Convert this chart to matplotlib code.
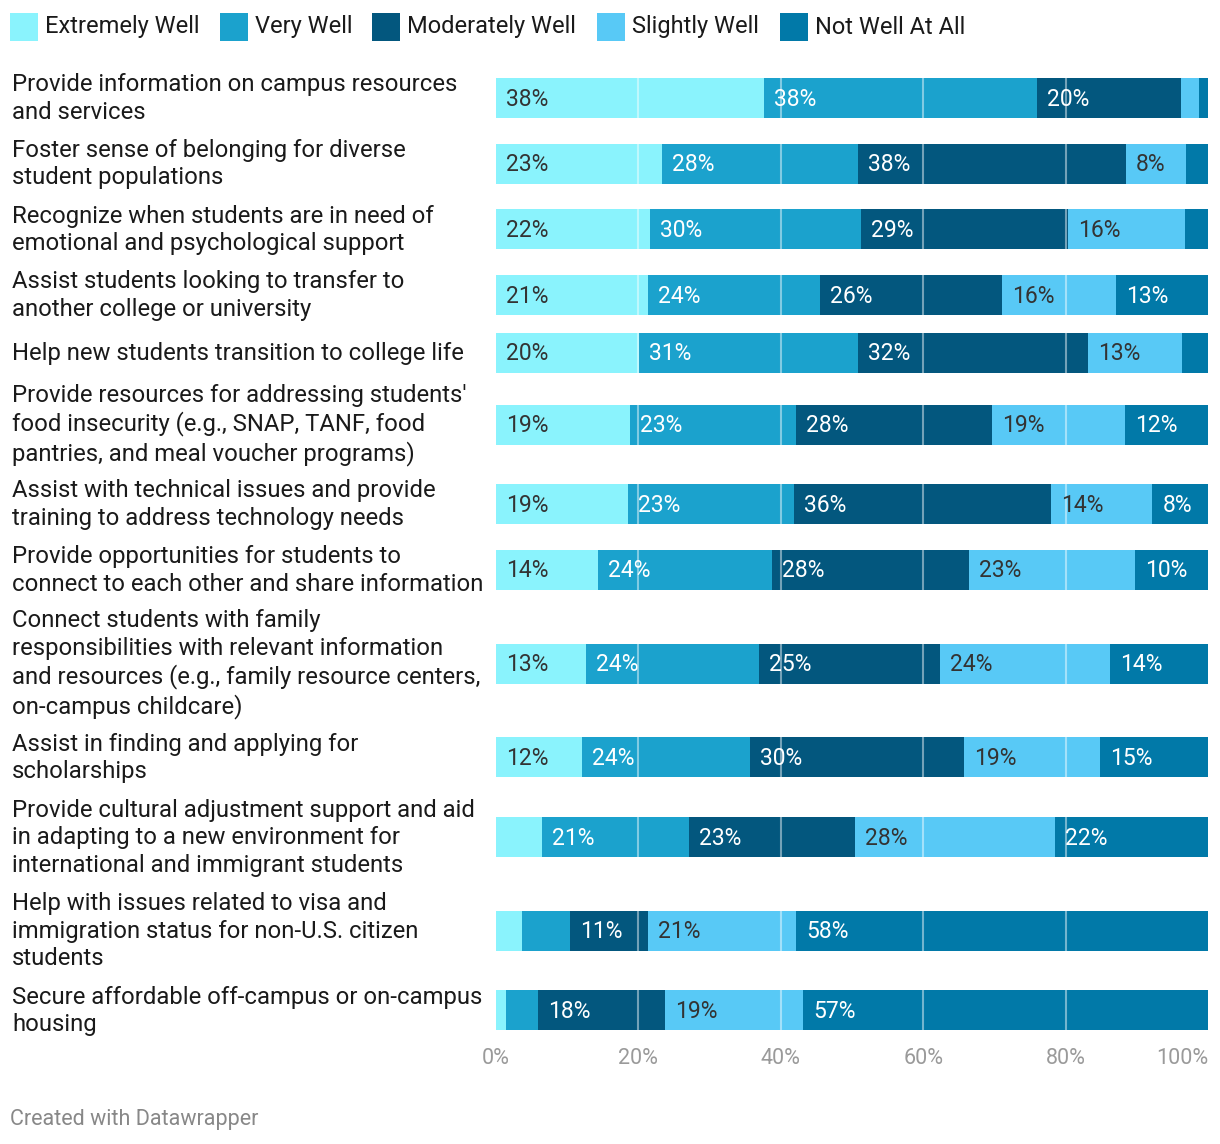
import matplotlib
matplotlib.use("Agg")
import matplotlib.pyplot as plt
from matplotlib.patches import Rectangle

plt.rcParams['font.family'] = ['Roboto', 'DejaVu Sans']

categories = [
    "Provide information on campus resources\nand services",
    "Foster sense of belonging for diverse\nstudent populations",
    "Recognize when students are in need of\nemotional and psychological support",
    "Assist students looking to transfer to\nanother college or university",
    "Help new students transition to college life",
    "Provide resources for addressing students'\nfood insecurity (e.g., SNAP, TANF, food\npantries, and meal voucher programs)",
    "Assist with technical issues and provide\ntraining to address technology needs",
    "Provide opportunities for students to\nconnect to each other and share information",
    "Connect students with family\nresponsibilities with relevant information\nand resources (e.g., family resource centers,\non-campus childcare)",
    "Assist in finding and applying for\nscholarships",
    "Provide cultural adjustment support and aid\nin adapting to a new environment for\ninternational and immigrant students",
    "Help with issues related to visa and\nimmigration status for non-U.S. citizen\nstudents",
    "Secure affordable off-campus or on-campus\nhousing",
]

series_names = ["Extremely Well", "Very Well", "Moderately Well", "Slightly Well", "Not Well At All"]

extremely_well = [37.6, 23.3, 21.6, 21.3, 20.1, 18.8, 18.6, 14.3, 12.6, 12.1, 6.5, 3.7, 1.4]
very_well      = [38.4, 27.6, 29.6, 24.2, 30.8, 23.3, 23.3, 24.4, 24.4, 23.6, 20.6, 6.7, 4.5]
moderately     = [20.2, 37.6, 29.1, 25.6, 32.3, 27.6, 36.0, 27.8, 25.3, 30.1, 23.3, 11.0, 17.8]
slightly_well  = [2.5, 8.4, 16.4, 16.0, 13.2, 18.6, 14.3, 23.3, 23.9, 19.1, 28.1, 20.8, 19.4]
not_well       = [1.3, 3.1, 3.3, 12.9, 3.6, 11.7, 7.8, 10.2, 13.8, 15.1, 21.5, 57.8, 56.9]

series = [extremely_well, very_well, moderately, slightly_well, not_well]
colors = ["#8af3fd", "#1ba2cd", "#03577e", "#58c9f6", "#0179a8"]
text_colors = ["#333333", "#ffffff", "#ffffff", "#333333", "#ffffff"]
ticks = [0, 20, 40, 60, 80, 100]

W, H = 1220, 1144
fig = plt.figure(figsize=(W / 100, H / 100), dpi=100)

# layout: compute row centers (in pixel units) from label line counts
line_h = 28.0
bar_h = 40.0
gap = 9.7
centers = []
y = 98.0
prev_h = None
for cat in categories:
    n = cat.count("\n") + 1
    h = max(bar_h, n * line_h)
    if prev_h is not None:
        y += prev_h / 2 + h / 2 + gap
    centers.append(y)
    prev_h = h

x0, x1 = 496, 1208
ax = fig.add_axes([x0 / W, 0, (x1 - x0) / W, 1])
ax.set_xlim(0, 100)
ax.set_ylim(H, 0)
ax.axis("off")

px = 100.0 / (x1 - x0)  # data units per pixel
for i, cat in enumerate(categories):
    left = 0.0
    for s, vals in enumerate(series):
        v = vals[i]
        ax.barh(centers[i], v, left=left, height=bar_h, color=colors[s], linewidth=0, zorder=2)
        if v >= 7:
            ax.text(left + 10 * px, centers[i] + 1, f"{round(v):d}%", ha="left", va="center",
                    color=text_colors[s], fontsize=16.5, zorder=4)
        left += v
    fig.text(12 / W, 1 - (centers[i] + 0.5) / H, cat, ha="left", va="center", fontsize=17.2,
             color="#1a1a1a", linespacing=1.25)

for t in ticks[1:-1]:
    ax.plot([t, t], [centers[0] - bar_h / 2, centers[-1] + bar_h / 2], color="white",
            alpha=0.45, lw=1.5, zorder=3)

for t in ticks:
    ha = "right" if t == 100 else "center"
    ax.text(t, 1058, f"{t}%", ha=ha, va="center", fontsize=15.5, color="#9a9a9a")

# legend
leg_x = [10, 220, 372, 597, 780]
for name, c, lx in zip(series_names, colors, leg_x):
    fig.patches.append(Rectangle((lx / W, 1 - 41 / H), 28 / W, 28 / H, transform=fig.transFigure,
                                 facecolor=c, edgecolor="none"))
    fig.text((lx + 35) / W, 1 - 27 / H, name, ha="left", va="center", fontsize=17, color="#1a1a1a")

fig.text(10 / W, 1 - 1119 / H, "Created with Datawrapper", ha="left", va="center",
         fontsize=15.5, color="#888888")

fig.savefig("out.png", dpi=100, facecolor="white")
